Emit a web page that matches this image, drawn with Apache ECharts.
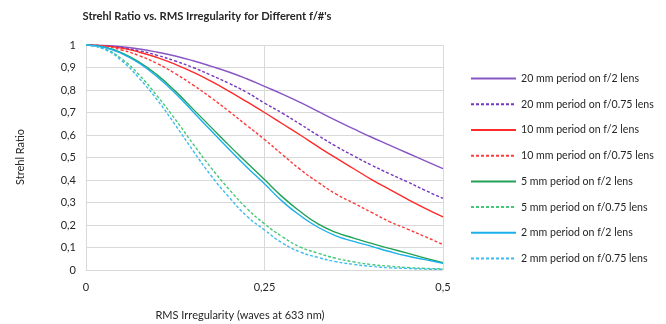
<!DOCTYPE html>
<html>
<head>
<meta charset="utf-8">
<script src="https://cdn.jsdelivr.net/npm/echarts@6/dist/echarts.min.js"></script>
<style>
html,body{margin:0;padding:0;background:#fff;}
#chart{width:666px;height:324px;}
</style>
</head>
<body>
<div id="chart"></div>
<script>
const rms = [0, 0.025, 0.05, 0.075, 0.1, 0.125, 0.15, 0.175, 0.2, 0.225, 0.25, 0.275, 0.3, 0.325, 0.35, 0.375, 0.4, 0.425, 0.45, 0.475, 0.5];

const p20_f2   = [1, 0.998, 0.992, 0.982, 0.968, 0.951, 0.93, 0.906, 0.88, 0.85, 0.816, 0.782, 0.745, 0.705, 0.665, 0.627, 0.59, 0.555, 0.52, 0.485, 0.451];
const p20_f075 = [1, 0.997, 0.988, 0.974, 0.954, 0.929, 0.9, 0.866, 0.83, 0.79, 0.742, 0.697, 0.648, 0.598, 0.55, 0.507, 0.466, 0.428, 0.392, 0.354, 0.318];
const p10_f2   = [1, 0.996, 0.986, 0.968, 0.944, 0.914, 0.879, 0.839, 0.795, 0.748, 0.70, 0.65, 0.60, 0.548, 0.498, 0.45, 0.402, 0.358, 0.315, 0.274, 0.236];
const p10_f075 = [1, 0.995, 0.978, 0.952, 0.917, 0.873, 0.822, 0.766, 0.706, 0.643, 0.58, 0.513, 0.447, 0.39, 0.338, 0.297, 0.256, 0.215, 0.182, 0.148, 0.113];
const p5_f2    = [1, 0.991, 0.965, 0.923, 0.866, 0.795, 0.715, 0.635, 0.555, 0.478, 0.402, 0.325, 0.26, 0.205, 0.167, 0.142, 0.118, 0.096, 0.075, 0.053, 0.032];
const p5_f075  = [1, 0.984, 0.938, 0.865, 0.772, 0.67, 0.56, 0.455, 0.36, 0.275, 0.205, 0.148, 0.102, 0.075, 0.052, 0.036, 0.024, 0.017, 0.011, 0.007, 0.005];
const p2_f2    = [1, 0.99, 0.962, 0.918, 0.858, 0.786, 0.703, 0.62, 0.538, 0.458, 0.383, 0.305, 0.242, 0.19, 0.152, 0.127, 0.105, 0.082, 0.062, 0.046, 0.03];
const p2_f075  = [1, 0.982, 0.93, 0.85, 0.755, 0.645, 0.53, 0.42, 0.325, 0.24, 0.178, 0.12, 0.08, 0.056, 0.037, 0.025, 0.016, 0.01, 0.007, 0.004, 0.003];

const seriesNames = [
  '20 mm period on f/2 lens',
  '20 mm period on f/0.75 lens',
  '10 mm period on f/2 lens',
  '10 mm period on f/0.75 lens',
  '5 mm period on f/2 lens',
  '5 mm period on f/0.75 lens',
  '2 mm period on f/2 lens',
  '2 mm period on f/0.75 lens'
];
const seriesValues = [p20_f2, p20_f075, p10_f2, p10_f075, p5_f2, p5_f075, p2_f2, p2_f075];
const seriesColors = ['#8856c4', '#7436bf', '#ff2a2a', '#ff3a3a', '#22a055', '#44c878', '#1ab0ec', '#3cbcf0'];
const seriesDashed = [false, true, false, true, false, true, false, true];

const xTicks = [0, 0.25, 0.5];
const yMax = 1;

const FONT = 'Lato';
const chart = echarts.init(document.getElementById('chart'), null, {renderer: 'canvas'});

const fmt = v => String(v).replace('.', ',');

chart.setOption({
  backgroundColor: '#ffffff',
  animation: false,
  title: {
    text: "Strehl Ratio vs. RMS Irregularity for Different f/#'s",
    left: 202, top: 6, textAlign: 'center',
    textStyle: {fontFamily: FONT, fontWeight: 'bold', fontSize: 11.2, color: '#262626'}
  },
  graphic: [
    {type: 'text', rotation: Math.PI / 2, x: 20, y: 157, style: {text: 'Strehl Ratio', font: '11px ' + FONT, fill: '#262626', textAlign: 'center', textVerticalAlign: 'middle'}},
    {type: 'text', x: 240, y: 315, style: {text: 'RMS Irregularity (waves at 633 nm)', font: '11px ' + FONT, fill: '#262626', textAlign: 'center', textVerticalAlign: 'middle'}}
  ],
  legend: {
    orient: 'vertical',
    left: 465, top: 68,
    itemWidth: 45, itemHeight: 14, itemGap: 14.5,
    itemStyle: {opacity: 0},
    textStyle: {fontFamily: FONT, fontSize: 10.6, color: '#262626'},
    data: seriesNames
  },
  grid: {left: 86, right: 223, top: 45, bottom: 54, containLabel: false},
  xAxis: {
    type: 'value', min: 0, max: 0.5, interval: 0.25,
    axisLine: {show: true, lineStyle: {color: '#d9d9d9', width: 1}},
    axisTick: {show: false},
    splitLine: {show: true, lineStyle: {color: '#d9d9d9', width: 1}},
    axisLabel: {formatter: fmt, fontFamily: FONT, fontSize: 11, color: '#262626', margin: 12}
  },
  yAxis: {
    type: 'value', min: 0, max: yMax, interval: 0.1,
    axisLine: {show: true, lineStyle: {color: '#d9d9d9', width: 1}},
    axisTick: {show: false},
    splitLine: {show: true, lineStyle: {color: '#d9d9d9', width: 1}},
    axisLabel: {formatter: v => fmt(Math.round(v * 10) / 10), fontFamily: FONT, fontSize: 11, color: '#262626', margin: 10}
  },
  series: seriesNames.map((name, i) => ({
    name: name,
    type: 'line',
    smooth: true,
    symbol: 'none',
    data: rms.map((x, j) => [x, seriesValues[i][j]]),
    lineStyle: {color: seriesColors[i], width: 1.4, type: seriesDashed[i] ? [3, 2] : 'solid'},
    itemStyle: {color: seriesColors[i]}
  }))
});
</script>
</body>
</html>
